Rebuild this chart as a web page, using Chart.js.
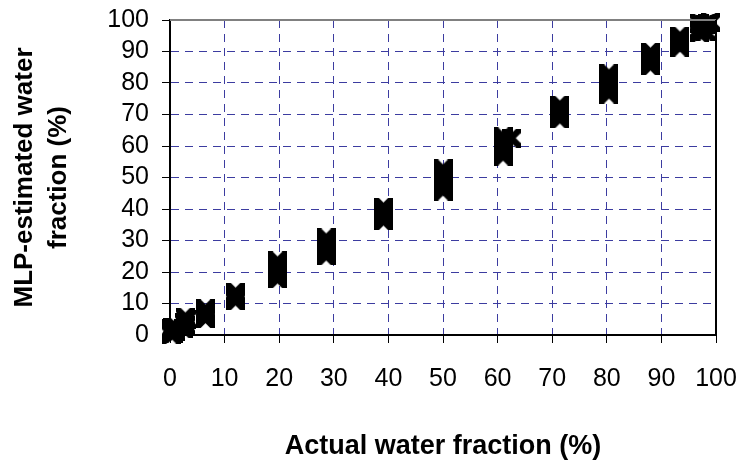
<!DOCTYPE html>
<html>
<head>
<meta charset="utf-8">
<script src="https://cdn.jsdelivr.net/npm/chart.js@4"></script>
<style>
  html, body { margin: 0; padding: 0; background: #fff; }
  #wrap { width: 742px; height: 463px; }
</style>
</head>
<body>
<div id="wrap"><canvas id="water-chart" width="742" height="463"></canvas></div>
<script>
// Actual water fraction (%) vs MLP-estimated water fraction (%)
const actualFraction = [
  0.2, 0.2, 0.2, 0.6, 0.6, 1, 1, 0.4,
  2.5, 2.9, 2.7, 3, 2.8,
  6.5, 6.5, 6.5, 6.5, 6.5,
  12, 12, 12, 12,
  19.7, 19.7, 19.7, 19.7, 19.7, 19.7, 19.7,
  28.6, 28.6, 28.6, 28.6, 28.6, 28.6, 28.6,
  39.1, 39.1, 39.1, 39.1, 39.1, 39.1,
  50, 50, 50, 50, 50, 50, 50, 50,
  61, 61, 61, 61, 61, 61, 61, 62.5,
  71.4, 71.4, 71.4, 71.4, 71.4, 71.4,
  80.4, 80.4, 80.4, 80.4, 80.4, 80.4, 80.4, 80.4,
  88, 88, 88, 88, 88, 88,
  93.4, 93.4, 93.4, 93.4, 93.4,
  97, 97, 97.5, 98, 98.5, 99, 98, 97
];
const estimatedFraction = [
  0.3, 1.2, 2, 0.5, 1.5, 2.5, 1, 2.5,
  2, 3, 4, 5, 5.7,
  5.2, 6, 6.8, 7.6, 8.3,
  10.8, 11.7, 12.6, 13.6,
  17.8, 18.8, 19.8, 20.8, 21.8, 22.7, 23.5,
  25.1, 26.1, 27.1, 28.1, 29.1, 30, 30.8,
  36.2, 37.2, 38.2, 39.2, 40, 40.6,
  45.7, 46.7, 47.7, 48.7, 49.7, 50.7, 51.7, 52.7,
  56.8, 57.8, 58.8, 59.8, 60.8, 61.8, 62.9, 62.5,
  68.6, 69.6, 70.6, 71.6, 72.4, 73,
  76.5, 77.5, 78.5, 79.5, 80.5, 81.5, 82.3, 82.9,
  85.4, 86.4, 87.4, 88.4, 89.2, 89.8,
  91.4, 92.3, 93.2, 94, 94.9,
  96, 97, 98, 96.5, 99, 99.3, 98.5, 99
];
const axisMin = 0;
const axisMax = 100;
const axisStep = 10;

const points = actualFraction.map((x, i) => ({ x: x, y: estimatedFraction[i] }));

const fontFamily = '"Liberation Sans", Arial, Helvetica, sans-serif';
const gridColor = '#3c3ca0';

// thick X marker with its arm ends cut square (spreadsheet style)
const xMarker = document.createElement('canvas');
xMarker.width = 19;
xMarker.height = 19;
(function () {
  const c = xMarker.getContext('2d');
  c.strokeStyle = '#000';
  c.lineWidth = 6.5;
  c.beginPath();
  c.moveTo(-2, -2);
  c.lineTo(21, 21);
  c.moveTo(21, -2);
  c.lineTo(-2, 21);
  c.stroke();
})();

// top and right frame of the plot area
const frameLines = {
  id: 'frameLines',
  afterDatasetsDraw(chart) {
    const { ctx, chartArea } = chart;
    ctx.save();
    ctx.lineWidth = 2;
    ctx.strokeStyle = '#808080';
    ctx.beginPath();
    ctx.moveTo(chartArea.left, chartArea.top);
    ctx.lineTo(chartArea.right, chartArea.top);
    ctx.stroke();
    ctx.strokeStyle = '#000';
    ctx.beginPath();
    ctx.moveTo(chartArea.right, chartArea.top);
    ctx.lineTo(chartArea.right, chartArea.bottom);
    ctx.stroke();
    ctx.restore();
  }
};

// no extra room for overhanging tick labels
function noOverhang(scale) {
  scale.paddingLeft = 0;
  scale.paddingRight = 0;
  scale.paddingTop = 0;
  scale.paddingBottom = 0;
}

new Chart(document.getElementById('water-chart'), {
  type: 'scatter',
  data: {
    datasets: [{
      label: 'MLP estimate',
      data: points,
      pointStyle: xMarker,
      pointRadius: 10,
      pointHoverRadius: 10,
      borderColor: '#000',
      backgroundColor: '#000',
      clip: false
    }]
  },
  options: {
    responsive: false,
    animation: false,
    events: [],
    layout: {
      autoPadding: false,
      padding: { top: 20, right: 26, left: 8, bottom: 0 }
    },
    plugins: {
      legend: { display: false },
      tooltip: { enabled: false }
    },
    scales: {
      x: {
        type: 'linear',
        min: axisMin,
        max: axisMax,
        afterFit(scale) { scale.height = 128; noOverhang(scale); },
        ticks: {
          stepSize: axisStep,
          autoSkip: false,
          maxRotation: 0,
          color: '#000',
          padding: 21,
          font: { family: fontFamily, size: 25 }
        },
        grid: {
          color: gridColor,
          lineWidth: 1,
          tickColor: '#000',
          tickLength: 8,
          tickWidth: 1
        },
        border: { display: true, color: '#000', width: 2, dash: [8, 6] },
        title: {
          display: true,
          text: 'Actual water fraction (%)',
          color: '#000',
          padding: { top: 30, bottom: 0 },
          font: { family: fontFamily, size: 27, weight: 'bold' }
        }
      },
      y: {
        type: 'linear',
        min: axisMin,
        max: axisMax,
        afterFit(scale) { scale.width = 162; noOverhang(scale); },
        ticks: {
          stepSize: axisStep,
          autoSkip: false,
          color: '#000',
          padding: 13,
          font: { family: fontFamily, size: 25 }
        },
        grid: {
          color: gridColor,
          lineWidth: 1,
          tickColor: '#000',
          tickLength: 8,
          tickWidth: 1
        },
        border: { display: true, color: '#000', width: 2, dash: [8, 6] },
        title: {
          display: true,
          text: ['MLP-estimated water', 'fraction (%)'],
          color: '#000',
          padding: { top: 0, bottom: 0 },
          font: { family: fontFamily, size: 26, weight: 'bold', lineHeight: 1.3 }
        }
      }
    }
  },
  plugins: [frameLines]
});
</script>
</body>
</html>
